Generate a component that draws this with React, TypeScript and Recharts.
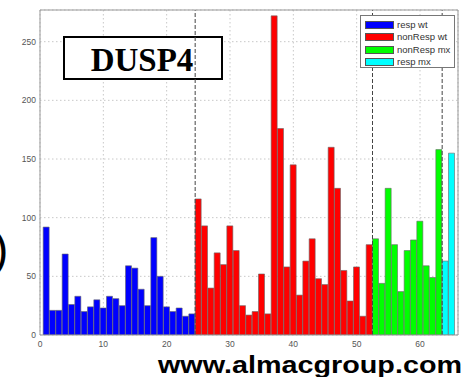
import React from 'react';
import { BarChart, Bar, XAxis, YAxis, CartesianGrid, ReferenceLine, Legend } from 'recharts';

const xTicks = [0, 10, 20, 30, 40, 50, 60];
const yTicks = [0, 50, 100, 150, 200, 250];

const respWt = [92, 21, 21, 69, 26, 33, 20, 24, 30, 23, 33, 31, 25, 59, 57, 39, 25, 83, 50, 24, 20, 23, 16, 18];
const nonRespWt = [116, 93, 40, 70, 60, 93, 72, 25, 17, 20, 52, 18, 272, 176, 58, 145, 34, 63, 82, 48, 43, 160, 125, 55, 29, 58, 16, 77];
const nonRespMx = [82, 44, 125, 77, 37, 72, 81, 97, 59, 49, 158];
const respMx = [63, 155];

const seriesKeys = ['respWt', 'nonRespWt', 'nonRespMx', 'respMx'];
const seriesLabels = ['resp wt', 'nonResp wt', 'nonResp mx', 'resp mx'];
const seriesColors = ['#0000ff', '#ff0000', '#00ff00', '#00ffff'];
const seriesValues = [respWt, nonRespWt, nonRespMx, respMx];

const rows: any[] = [];
let counter = 1;
seriesValues.forEach((vals, gi) => {
  vals.forEach((v) => {
    rows.push({ x: counter, [seriesKeys[gi]]: v });
    counter += 1;
  });
});

const boundaries: number[] = [];
let cum = 0;
seriesValues.slice(0, 3).forEach((vals) => {
  cum += vals.length;
  boundaries.push(cum + 0.5);
});

const tickFont = { fontSize: 8.5, fill: '#555', fontFamily: 'Liberation Sans, Arial, sans-serif' };

const renderLegend = () => (
  <div
    style={{
      width: 95,
      height: 53,
      boxSizing: 'border-box',
      border: '1px solid #777',
      background: '#fff',
      paddingTop: 3,
      fontFamily: 'Liberation Sans, Arial, sans-serif',
      fontSize: 9.5,
      color: '#333',
    }}
  >
    {seriesLabels.map((lab, i) => (
      <div key={lab} style={{ display: 'flex', alignItems: 'center', height: 12.3 }}>
        <div
          style={{
            width: 29,
            height: 8,
            marginLeft: 4,
            marginRight: 3,
            background: seriesColors[i],
            border: '0.5px solid #555',
            boxSizing: 'border-box',
          }}
        />
        <span style={{ whiteSpace: 'nowrap', lineHeight: '10px' }}>{lab}</span>
      </div>
    ))}
  </div>
);

export default function App() {
  return (
    <div style={{ position: 'absolute', left: 0, top: 0, width: 468, height: 377, background: '#fff', overflow: 'hidden' }}>
      <BarChart width={468} height={377} data={rows} margin={{ top: 10, right: 10, bottom: 22, left: 10 }}>
        <CartesianGrid stroke="#c8c8c8" strokeDasharray="1.5 2.5" />
        <g>
          <rect x={64} y={37} width={158} height={42} fill="#fff" stroke="#000" strokeWidth={2} />
          <text x={142} y={71} textAnchor="middle" fontFamily="Liberation Serif, Times New Roman, serif" fontWeight="bold" fontSize={33} fill="#000">
            DUSP4
          </text>
        </g>
        <XAxis
          dataKey="x"
          type="number"
          domain={[0, 66]}
          allowDataOverflow
          ticks={xTicks}
          tickLine={false}
          tickSize={4}
          tickMargin={2}
          height={20}
          axisLine={{ stroke: '#999' }}
          tick={tickFont}
        />
        <YAxis
          type="number"
          domain={[0, 277]}
          allowDataOverflow
          ticks={yTicks}
          tickLine={false}
          tickSize={4}
          tickMargin={0}
          width={30}
          axisLine={{ stroke: '#999' }}
          tick={tickFont}
        />
        <XAxis xAxisId="top" orientation="top" mirror type="number" dataKey="x" domain={[0, 66]} allowDataOverflow ticks={xTicks} tick={false} tickSize={3} tickLine={{ stroke: '#999' }} axisLine={{ stroke: '#999' }} />
        <XAxis xAxisId="bin" orientation="bottom" mirror type="number" dataKey="x" domain={[0, 66]} allowDataOverflow ticks={xTicks} tick={false} tickSize={3} tickLine={{ stroke: '#999' }} axisLine={false} />
        <YAxis yAxisId="right" orientation="right" mirror type="number" domain={[0, 277]} allowDataOverflow ticks={yTicks} tick={false} tickSize={3} tickLine={{ stroke: '#999' }} axisLine={{ stroke: '#999' }} />
        <YAxis yAxisId="lin" orientation="left" mirror type="number" domain={[0, 277]} allowDataOverflow ticks={yTicks} tick={false} tickSize={3} tickLine={{ stroke: '#999' }} axisLine={false} />
        {seriesKeys.map((k, i) => (
          <Bar key={k} dataKey={k} stackId="a" fill={seriesColors[i]} stroke="#666" strokeWidth={0.6} barSize={6} isAnimationActive={false} />
        ))}
        {boundaries.map((b) => (
          <ReferenceLine key={b} x={b} stroke="#444" strokeDasharray="4 2" strokeWidth={1} />
        ))}
        <Legend
          layout="horizontal"
          verticalAlign="middle"
          align="center"
          content={renderLegend}
          wrapperStyle={{ position: 'absolute', left: 360, top: 15, width: 95, height: 53 }}
        />
      </BarChart>
      <svg width={468} height={377} style={{ position: 'absolute', left: 0, top: 0, pointerEvents: 'none' }}>
        <text x={-7} y={265} fontFamily="Liberation Sans, Arial, sans-serif" fontSize={46} fill="#000">
          )
        </text>
        <text
          x={158}
          y={373}
          fontFamily="Liberation Sans, Arial, sans-serif"
          fontWeight="bold"
          fontSize={24}
          fill="#000"
          textLength={304}
          lengthAdjust="spacingAndGlyphs"
        >
          www.almacgroup.com
        </text>
      </svg>
    </div>
  );
}
